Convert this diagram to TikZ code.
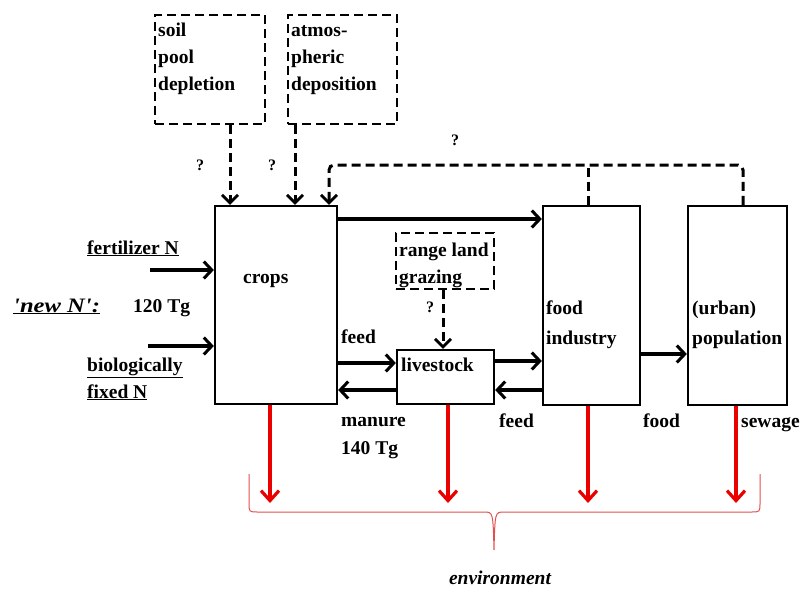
\documentclass[tikz,border=0pt]{standalone}
\usepackage{fontspec}
\setmainfont{Liberation Serif}
\usetikzlibrary{arrows.meta}
\begin{document}
\begin{tikzpicture}[x=1pt,y=-1pt,
  every node/.style={font=\fontsize{19.5}{27}\selectfont\bfseries, inner sep=0pt},
  box/.style={draw, line width=2.3pt, inner sep=0pt},
  dbox/.style={draw, line width=2.5pt, dash pattern=on 9pt off 5pt, inner sep=0pt},
  txt/.style={anchor=base west},
  qm/.style={font=\fontsize{16}{18}\selectfont\bfseries},
  arr/.style={line width=3.2pt, -{Straight Barb[length=8pt,width=17pt,line width=3pt]}},
  darr/.style={line width=3pt, dash pattern=on 9pt off 5pt, -{Straight Barb[length=8pt,width=16pt,line width=2.8pt]}},
  dline/.style={line width=3pt, dash pattern=on 9pt off 5pt},
  rarr/.style={line width=3.4pt, draw={rgb,255:red,235;green,0;blue,0}, -{Straight Barb[length=10pt,width=18pt,line width=3.2pt]}},
]
\useasboundingbox (0,0) rectangle (803,589);

% boxes
\node[dbox, minimum width=110pt, minimum height=109pt] (soil) at (210,69.5) {};
\node[dbox, minimum width=109pt, minimum height=109pt] (atmos) at (342.5,69.5) {};
\node[box, minimum width=122pt, minimum height=198pt] (crops) at (276,305) {};
\node[box, minimum width=97pt, minimum height=199pt] (food) at (591.5,305.5) {};
\node[box, minimum width=99pt, minimum height=199pt] (pop) at (737.5,305.5) {};
\node[dbox, minimum width=98pt, minimum height=56pt] (range) at (445,261) {};
\node[box, minimum width=97pt, minimum height=54pt] (live) at (445.5,377) {};

% texts
\node[txt] (ts1) at (158,36) {soil};
\node[txt] (ts2) at (158,63) {pool};
\node[txt] (ts3) at (158,90) {depletion};
\node[txt] (ta1) at (291,36) {atmos-};
\node[txt] (ta2) at (291,63) {pheric};
\node[txt] (ta3) at (291,90) {deposition};
\node[qm] (q1) at (200,165) {?};
\node[qm] (q2) at (272,165) {?};
\node[qm] (q3) at (455,140) {?};
\node[qm] (q4) at (430,307) {?};
\node[txt] (tfert) at (87,254) {\underline{fertilizer N}};
\node[txt] (tbio1) at (87,371) {\underline{biologically}};
\node[txt] (tbio2) at (87,398) {\underline{fixed N}};
\node[txt] (tnew) at (13,312) {\scalebox{1.2}[1]{\fontsize{20.5}{27}\selectfont\underline{\itshape \textquotesingle new N\textquotesingle:}}};
\node[txt] (t120) at (133,312) {120 Tg};
\node[txt] (tcrops) at (243,283) {crops};
\node[txt] (tr1) at (399,256) {range land};
\node[txt] (tr2) at (399,283) {grazing};
\node[txt] (tlive) at (401,371) {livestock};
\node[txt] (tfeed1) at (341,343) {feed};
\node[txt] (tman1) at (341,426) {manure};
\node[txt] (tman2) at (341,454) {140 Tg};
\node[txt] (tfeed2) at (499,427) {feed};
\node[txt] (tf1) at (546,314) {food};
\node[txt] (tf2) at (546,344) {industry};
\node[txt] (tp1) at (692,314) {(urban)};
\node[txt] (tp2) at (692,344) {population};
\node[txt] (tfood) at (643,427) {food};
\node[txt] (tsew) at (741,427) {sewage};
\node[anchor=base, font=\fontsize{19.5}{27}\selectfont\bfseries\itshape] (tenv) at (500,584) {environment};

% helper coordinates
\coordinate (xs) at (230,0);
\coordinate (xa) at (295,0);
\coordinate (fb) at (329,165);
\coordinate (xf) at (588,0);
\coordinate (xp) at (743,0);
\coordinate (xr) at (443,0);
\coordinate (y1) at (0,219);
\coordinate (yfeed) at (0,363);
\coordinate (yman) at (0,390);
\coordinate (ylf) at (0,361);
\coordinate (yfp) at (0,354);
\coordinate (fertS) at (150,270);
\coordinate (bioS) at (148,346);
\coordinate (e1) at (270,503);
\coordinate (e2) at (448,503);
\coordinate (e3) at (588,503);
\coordinate (e4) at (736,503);

% dashed inputs
\draw[darr] (soil.south -| xs) -- (crops.north -| xs);
\draw[darr] (atmos.south -| xa) -- (crops.north -| xa);
\draw[darr, rounded corners=5pt] (pop.north -| xp) |- (fb) -- (crops.north -| fb);
\draw[dline] (food.north -| xf) -- (xf |- fb);
\draw[darr] (range.south -| xr) -- (live.north -| xr);

% solid flows
\draw[arr] (fertS) -- (crops.west |- fertS);
\draw[arr] (bioS) -- (crops.west |- bioS);
\draw[arr] (crops.east |- y1) -- (food.west |- y1);
\draw[arr] (crops.east |- yfeed) -- (live.west |- yfeed);
\draw[arr] (live.west |- yman) -- (crops.east |- yman);
\draw[arr] (live.east |- ylf) -- (food.west |- ylf);
\draw[arr] (food.west |- yman) -- (live.east |- yman);
\draw[arr] (food.east |- yfp) -- (pop.west |- yfp);

% losses to environment
\draw[rarr] (crops.south -| e1) -- (e1);
\draw[rarr] (live.south -| e2) -- (e2);
\draw[rarr] (food.south -| e3) -- (e3);
\draw[rarr] (pop.south -| e4) -- (e4);

% brace
\draw[line width=1pt, draw={rgb,255:red,225;green,80;blue,80}]
  (249,474) -- (249,503) .. controls (249,512) .. (258,512) -- (484,512)
  .. controls (493,512) .. (494,550) .. controls (495,512) .. (504,512)
  -- (751,512) .. controls (760,512) .. (760,503) -- (760,474);
\end{tikzpicture}
\end{document}
